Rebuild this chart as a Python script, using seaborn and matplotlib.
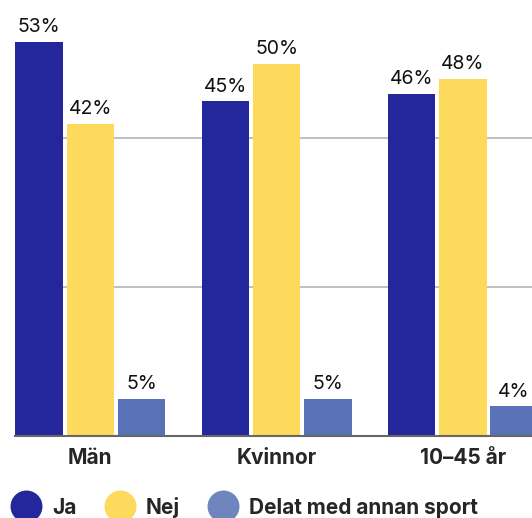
import matplotlib
matplotlib.use("Agg")
import matplotlib.pyplot as plt
import seaborn as sns
import pandas as pd
from matplotlib.lines import Line2D

groups = ["Män", "Kvinnor", "10–45 år"]
series = ["Ja", "Nej", "Delat med annan sport"]
ja = [53, 45, 46]
nej = [42, 50, 48]
delat = [5, 5, 4]
colors = ["#23279b", "#fdd95c", "#5a72b8"]
legend_colors = ["#23279b", "#fdd95c", "#6e86bd"]

df = pd.DataFrame({
    "grupp": groups * 3,
    "svar": [s for s in series for _ in groups],
    "andel": ja + nej + delat,
})

sns.set_theme(style="white")
plt.rcParams["font.family"] = ["Inter", "DejaVu Sans"]

W, H = 532, 518
fig = plt.figure(figsize=(W / 100, H / 100), dpi=100)
ax = fig.add_axes([15 / W, 82 / H, 1 - 15 / W, 436 / H])

sns.barplot(data=df, x="grupp", y="andel", hue="svar", order=groups,
            hue_order=series, palette=colors, width=0.825, gap=0.074,
            saturation=1, linewidth=0, errorbar=None, legend=False, ax=ax)

for cont in ax.containers:
    ax.bar_label(cont, labels=[f"{v:.0f}%" for v in cont.datavalues],
                 padding=4, fontsize=14, color="#111111")

ax.set_xlim(-0.404, 2.371)
ax.set_ylim(0, 58.6)
ax.set_yticks([0, 20, 40])
ax.yaxis.grid(True, color="#c0c0c0", linewidth=1.4)
ax.set_axisbelow(True)
ax.tick_params(axis="y", left=False, labelleft=False)
ax.tick_params(axis="x", length=0, pad=9, labelsize=15)
for lab in ax.get_xticklabels():
    lab.set_fontweight("bold")
ax.set_xlabel("")
ax.set_ylabel("")
for s in ["top", "right", "left"]:
    ax.spines[s].set_visible(False)
ax.spines["bottom"].set_color("#666666")
ax.spines["bottom"].set_linewidth(1.5)

handles = [Line2D([0], [0], marker="o", linestyle="", markersize=23,
                  markerfacecolor=c, markeredgewidth=0) for c in legend_colors]
leg = fig.legend(handles, series, loc="center left", bbox_to_anchor=(10 / W, 11 / H),
                 ncol=3, frameon=False, handlelength=1.54, handletextpad=0.47,
                 columnspacing=1.32, borderpad=0, borderaxespad=0,
                 prop={"size": 15, "weight": "bold"})

fig.savefig("out.png", dpi=100)
